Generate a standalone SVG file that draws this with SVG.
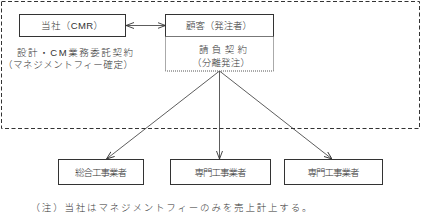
<svg xmlns="http://www.w3.org/2000/svg" width="422" height="214" viewBox="0 0 422 214">
<style>
text{font-family:"Liberation Sans","Noto Sans CJK JP",sans-serif;fill:#333;font-size:9.5px;font-weight:300;text-anchor:middle;dominant-baseline:central}
.box{fill:#fff;stroke:#333;stroke-width:1}
.dot{fill:#fff;stroke:#555;stroke-width:1;stroke-dasharray:1,1}
.frame{fill:none;stroke:#333;stroke-width:1;stroke-dasharray:4,2.5}
.con{stroke:#333;stroke-width:0.8;fill:none}
</style>
<defs>
<marker id="ah" viewBox="0 0 8 8" refX="8" refY="4" markerWidth="8" markerHeight="8" markerUnits="userSpaceOnUse" orient="auto-start-reverse">
<path d="M0,1 L8,4 L0,7" fill="none" stroke="#333" stroke-width="0.9"/>
</marker>
</defs>
<rect class="frame" x="1.5" y="1.5" width="418" height="127"/>
<g id="connectors">
<line class="con" x1="126" y1="25.5" x2="165.5" y2="25.5" marker-start="url(#ah)" marker-end="url(#ah)"/>
<line class="con" x1="219.5" y1="71" x2="106.5" y2="159" marker-end="url(#ah)"/>
<line class="con" x1="219.5" y1="71" x2="219.5" y2="159" marker-end="url(#ah)"/>
<line class="con" x1="219.5" y1="71" x2="332" y2="159" marker-end="url(#ah)"/>
</g>
<g id="cmr">
<rect class="box" x="19.5" y="14.5" width="106" height="22"/>
<text x="72" y="25.5" textLength="62" lengthAdjust="spacing">当社（CMR）</text>
</g>
<g id="contract-label">
<text><tspan x="75" y="51.5" textLength="116" lengthAdjust="spacing">設計・CM業務委託契約</tspan><tspan x="68" y="63.5" textLength="130" lengthAdjust="spacing">（マネジメントフィー確定）</tspan></text>
</g>
<g id="client">
<rect class="box" x="165.5" y="14.5" width="108" height="22"/>
<text x="219" y="25.5" textLength="66" lengthAdjust="spacing">顧客（発注者）</text>
</g>
<g id="ukeoi">
<rect class="dot" x="165.5" y="36.5" width="108" height="34.5"/>
<text><tspan x="223" y="48.5" textLength="48" lengthAdjust="spacing">請負契約</tspan><tspan x="221" y="61.5" textLength="58" lengthAdjust="spacing">（分離発注）</tspan></text>
</g>
<g id="general">
<rect class="box" x="58.5" y="159.5" width="85" height="25"/>
<text x="101" y="172" textLength="52" lengthAdjust="spacing">総合工事業者</text>
</g>
<g id="special1">
<rect class="box" x="170.5" y="159.5" width="100" height="25"/>
<text x="220.5" y="172" textLength="52" lengthAdjust="spacing">専門工事業者</text>
</g>
<g id="special2">
<rect class="box" x="284.5" y="159.5" width="98" height="25"/>
<text x="333.5" y="172" textLength="52" lengthAdjust="spacing">専門工事業者</text>
</g>
<text x="171" y="207" textLength="281" lengthAdjust="spacing" font-size="9">（注）当社はマネジメントフィーのみを売上計上する。</text>
</svg>
